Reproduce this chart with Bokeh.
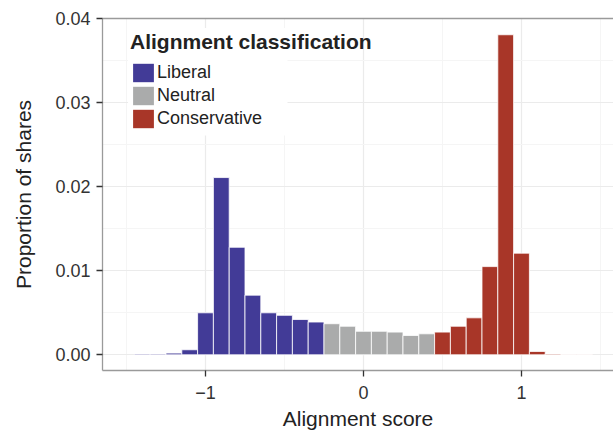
from bokeh.plotting import figure
from bokeh.models import (ColumnDataSource, Range1d, FixedTicker, PrintfTickFormatter,
                          LinearAxis, Legend, LegendItem, BoxAnnotation)
from bokeh.embed import file_html
from bokeh.resources import INLINE

# ---- data ----
bin_centers = [-1.4, -1.3, -1.2, -1.1, -1.0, -0.9, -0.8, -0.7, -0.6, -0.5,
               -0.4, -0.3, -0.2, -0.1, 0.0, 0.1, 0.2, 0.3, 0.4, 0.5,
               0.6, 0.7, 0.8, 0.9, 1.0, 1.1, 1.2, 1.3, 1.4]
shares = [0.0001, 0.0001, 0.0002, 0.0006, 0.0050, 0.0211, 0.0128, 0.0071, 0.0050, 0.0047,
          0.0042, 0.0039, 0.0037, 0.0034, 0.0028, 0.0028, 0.0027, 0.0023, 0.0025, 0.0027,
          0.0034, 0.0044, 0.0105, 0.0381, 0.0121, 0.0004, 0.0001, 0.00005, 0.00005]
classes = (["Liberal"] * 12) + (["Neutral"] * 7) + (["Conservative"] * 10)
class_names = ["Liberal", "Neutral", "Conservative"]
class_colors = ["#423B97", "#AAABAB", "#A83628"]
bin_width = 0.1

x_ticks = [-1, 0, 1]
x_tick_labels = ["\u22121", "0", "1"]
x_minor = [-1.5, -0.5, 0.5, 1.5]
y_ticks = [0.0, 0.01, 0.02, 0.03, 0.04]
y_minor = [0.005, 0.015, 0.025, 0.035]

FONT = "Liberation Sans"

p = figure(width=613, height=436, output_backend="svg", toolbar_location=None,
           x_range=Range1d(-1.6519, 1.5823), y_range=Range1d(-0.001869, 0.040036),
           min_border_left=102, min_border_right=0, min_border_top=18, min_border_bottom=66)
p.outline_line_color = None
p.background_fill_color = "white"
p.border_fill_color = "white"

# grids
p.xgrid.ticker = FixedTicker(ticks=x_ticks, minor_ticks=x_minor)
p.ygrid.ticker = FixedTicker(ticks=y_ticks, minor_ticks=y_minor)
for g in (p.xgrid, p.ygrid):
    g.grid_line_color = "#EBEBEB"
    g.grid_line_width = 1.2
    g.minor_grid_line_color = "#F5F5F5"
    g.minor_grid_line_width = 1

# white legend background box (as in the reference)
p.add_layout(BoxAnnotation(left=-1.49, right=-0.481, bottom=0.0261, top=0.0389,
                           fill_color="white", fill_alpha=1.0, line_color=None,
                           level="underlay"))

# bars
legend_items = []
for name, color in zip(class_names, class_colors):
    xs = [x for x, c in zip(bin_centers, classes) if c == name]
    ys = [y for y, c in zip(shares, classes) if c == name]
    src = ColumnDataSource(dict(x=xs, top=ys))
    p.vbar(x="x", top="top", bottom=0, width=bin_width, source=src,
           fill_color=color, line_color="white", line_width=0.8)
    key = p.vbar(x="x", top="top", bottom=0, width=0, source=src,
                 fill_color=color, line_color=None)
    legend_items.append(LegendItem(label=name, renderers=[key]))

# axes
xa = p.xaxis[0]
xa.ticker = FixedTicker(ticks=x_ticks)
xa.major_label_overrides = {t: l for t, l in zip(x_ticks, x_tick_labels)}
xa.axis_label = "Alignment score"
ya = p.yaxis[0]
ya.ticker = FixedTicker(ticks=y_ticks)
ya.formatter = PrintfTickFormatter(format="%.2f")
ya.axis_label = "Proportion of shares"
for ax in (xa, ya):
    ax.axis_line_color = "#9A9A9A"
    ax.axis_line_width = 1.3
    ax.major_tick_line_color = "#333333"
    ax.major_tick_line_width = 1.3
    ax.major_tick_out = 6
    ax.major_tick_in = 0
    ax.minor_tick_line_color = None
    ax.major_label_text_font = FONT
    ax.major_label_text_font_size = "18px"
    ax.major_label_text_color = "#333333"
    ax.axis_label_text_font = FONT
    ax.axis_label_text_font_size = "21px"
    ax.axis_label_text_font_style = "normal"
    ax.axis_label_text_color = "#222222"
xa.major_label_standoff = 9
xa.axis_label_standoff = 5
ya.major_label_standoff = 6
ya.axis_label_standoff = 17

top_axis = LinearAxis(ticker=FixedTicker(ticks=[]), major_label_text_font_size="0px",
                      major_tick_line_color=None, minor_tick_line_color=None,
                      major_tick_out=0, major_label_standoff=0,
                      axis_line_color="#9A9A9A", axis_line_width=1.3)
p.add_layout(top_axis, "above")

legend = Legend(items=legend_items, title="Alignment classification",
                location=(28, 240), margin=0, padding=0, spacing=0,
                glyph_width=26, glyph_height=23, label_height=23, label_standoff=1,
                title_standoff=7,
                background_fill_alpha=0, border_line_color=None,
                label_text_font=FONT, label_text_font_size="18px",
                label_text_color="#222222",
                title_text_font=FONT, title_text_font_size="21px",
                title_text_font_style="bold", title_text_color="#222222")
p.add_layout(legend)

open("out.html", "w").write(file_html(p, INLINE))
